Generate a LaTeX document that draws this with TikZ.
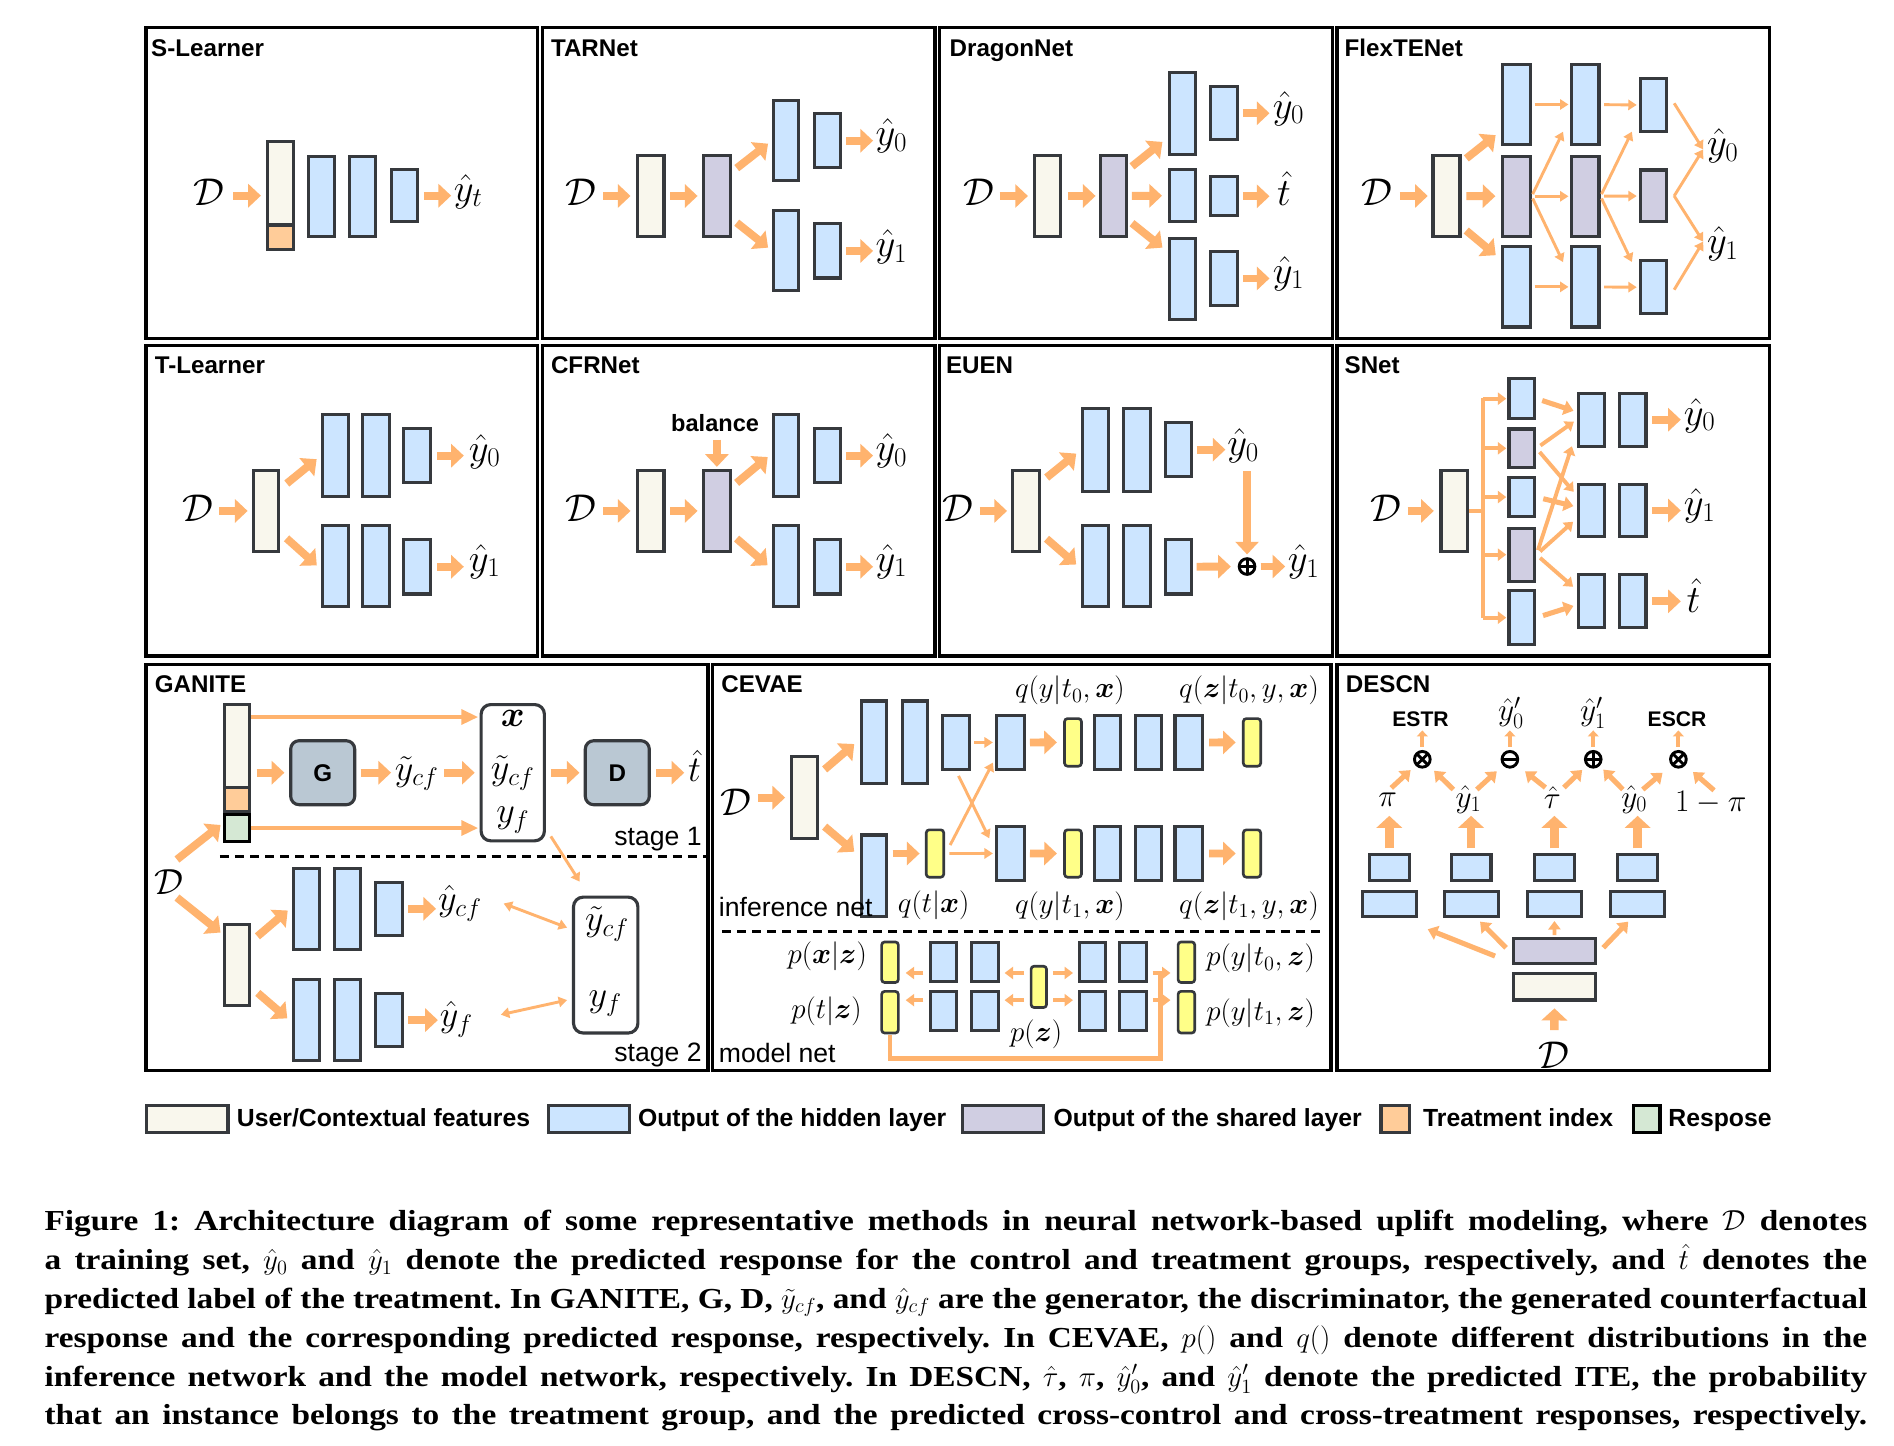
\RequirePackage{fix-cm}
\documentclass[tikz,border=0pt]{standalone}
\usepackage[no-math]{fontspec}
\usepackage{amsmath}
\newfontfamily\lsf{Liberation Sans}
\newfontfamily\capf[FakeStretch=1.15]{Liberation Serif}
\usetikzlibrary{arrows.meta,calc}
\definecolor{bord}{HTML}{36393D}
\definecolor{cre}{HTML}{F9F7ED}
\definecolor{blu}{HTML}{CCE5FF}
\definecolor{lavc}{HTML}{D0CEE2}
\definecolor{orac}{HTML}{FFCC99}
\definecolor{grnc}{HTML}{D5E8D4}
\definecolor{yelc}{HTML}{FFFF88}
\definecolor{gdc}{HTML}{BAC8D3}
\definecolor{arrc}{HTML}{FFB36E}
\newcommand\bxx[6]{\node[#2,minimum width={(#5)-(#3)-2.6},minimum height={(#6)-(#4)-2.6}] (#1) at ({((#3)+(#5))/2},{((#4)+(#6))/2}) {};}
\newcommand\crossx[1]{\draw[opl] ($(#1)+(-4.4,-4.4)$) -- ($(#1)+(4.4,4.4)$) ($(#1)+(-4.4,4.4)$) -- ($(#1)+(4.4,-4.4)$);}
\newcommand\crossp[1]{\draw[opl] ($(#1)+(-6.4,0)$) -- ($(#1)+(6.4,0)$) ($(#1)+(0,-6.4)$) -- ($(#1)+(0,6.4)$);}
\newcommand\crossm[1]{\draw[opl] ($(#1)+(-6.4,0)$) -- ($(#1)+(6.4,0)$);}
\newcommand\capl[1]{\hbox to 1509pt{#1}}
\begin{document}
\begin{tikzpicture}[x=1pt,y=-1pt,
  fr/.style={draw=black,line width=2.8pt},
  bx/.style={draw=bord,line width=2.6pt,inner sep=0pt,outer sep=1.3pt,rectangle},
  cr/.style={bx,fill=cre}, bl/.style={bx,fill=blu}, lv/.style={bx,fill=lavc},
  og/.style={bx,fill=orac}, gr/.style={bx,fill=grnc,draw=black,line width=2.8pt},
  yl/.style={bx,fill=yelc,rounded corners=2.5pt,line width=2.2pt},
  fa/.style={draw=arrc,line width=6.5pt,-{Triangle[length=10.5pt,width=19pt]}},
  fb/.style={draw=arrc,line width=7pt,-{Triangle[length=10pt,width=21pt]}},
  ma/.style={draw=arrc,line width=4.2pt,-{Triangle[length=8pt,width=12pt]}},
  gl/.style={draw=arrc,line width=3.5pt,-{Triangle[length=14pt,width=12pt]}},
  ta/.style={draw=arrc,line width=2.4pt,-{Triangle[length=7pt,width=8.5pt]}},
  tb/.style={draw=arrc,line width=3.2pt,-{Triangle[length=7pt,width=10pt]}},
  ts/.style={draw=arrc,line width=3.3pt,-{Triangle[length=5pt,width=9pt]}},
  tw/.style={draw=arrc,line width=2.4pt,{Triangle[length=7pt,width=8.5pt]}-{Triangle[length=7pt,width=8.5pt]}},
  bus/.style={draw=arrc,line width=3.2pt},
  lp/.style={draw=arrc,line width=4pt},
  dsh/.style={draw=black,line width=2.5pt,dash pattern=on 7.5pt off 5pt},
  ttl/.style={font=\lsf\bfseries\fontsize{20}{22}\selectfont,anchor=base west,inner sep=0pt},
  sfl/.style={font=\lsf\fontsize{22}{24}\selectfont,inner sep=0pt},
  lgt/.style={font=\lsf\bfseries\fontsize{20.5}{22}\selectfont,anchor=base west,inner sep=0pt},
  labT/.style={inner sep=0pt,font=\fontsize{32}{34}\selectfont},
  labG/.style={inner sep=0pt,font=\fontsize{30}{32}\selectfont},
  labC/.style={inner sep=0pt,font=\fontsize{24}{26}\selectfont},
  labD/.style={inner sep=0pt,font=\fontsize{26}{28}\selectfont},
  gbx/.style={draw=bord,line width=2.6pt,fill=gdc,rounded corners=7pt,inner sep=0pt,minimum width=53pt,minimum height=53pt,font=\lsf\bfseries\fontsize{20}{22}\selectfont},
  wbx/.style={draw=bord,line width=2.6pt,fill=white,rounded corners=8pt,inner sep=0pt},
  opc/.style={circle,draw=black,line width=2.4pt,minimum size=13pt,inner sep=0pt,fill=white},
  opl/.style={draw=black,line width=2.4pt}
]
\useasboundingbox (0,0) rectangle (1568,1197);
\fill[white] (0,0) rectangle (1568,1197);
% ---------- frames ----------
\draw[fr] (121,23) rectangle (445,280);
\draw[fr] (449,23) rectangle (774,280);
\draw[fr] (778,23) rectangle (1103,280);
\draw[fr] (1107,23) rectangle (1465,280);
\draw[fr] (121,286) rectangle (445,543);
\draw[fr] (449,286) rectangle (774,543);
\draw[fr] (778,286) rectangle (1103,543);
\draw[fr] (1107,286) rectangle (1465,543);
\draw[fr] (121,550) rectangle (586,886);
\draw[fr] (590,550) rectangle (1102,886);
\draw[fr] (1107,550) rectangle (1465,886);
\node[ttl] (t1) at (125,47) {S-Learner};
\node[ttl] (t2) at (456,47) {TARNet};
\node[ttl] (t3) at (786,47) {DragonNet};
\node[ttl] (t4) at (1113,47) {FlexTENet};
\node[ttl] (t5) at (128,309) {T-Learner};
\node[ttl] (t6) at (456,309) {CFRNet};
\node[ttl] (t7) at (783,309) {EUEN};
\node[ttl] (t8) at (1113,309) {SNet};
\node[ttl] (t9) at (128,573) {GANITE};
\node[ttl] (t10) at (597,573) {CEVAE};
\node[ttl] (t11) at (1114,573) {DESCN};
% ---------- S-Learner ----------
\node[labT] (sD) at (173,159) {$\mathcal{D}$};
\bxx{sC}{cr}{220}{116}{244}{208}
\bxx{sT}{og}{220}{185}{244}{208}
\bxx{sB1}{bl}{254}{128}{278}{197}
\bxx{sB2}{bl}{288}{128}{312}{197}
\bxx{sB3}{bl}{323}{139}{347}{185}
\node[labT,anchor=west] (sY) at (375.5,158.5) {$\hat{y}_t$};
\draw[fa,shorten <=7pt,shorten >=4pt] (sD.east|-sC.west) -- (sC.west);
\draw[fa,shorten <=4pt,shorten >=2pt] (sB3.east) -- (sY.west|-sB3.east);
% ---------- TARNet ----------
\node[labT] (aD) at (481,159) {$\mathcal{D}$};
\bxx{aC}{cr}{526.5}{127.5}{551}{197}
\bxx{aL}{lv}{581}{127.5}{606}{197}
\bxx{aU1}{bl}{639}{82}{662}{151}
\bxx{aU2}{bl}{673}{93}{697}{140}
\bxx{aB1}{bl}{639}{173}{662}{242}
\bxx{aB2}{bl}{673}{184}{697}{231.5}
\node[labT,anchor=west] (aY0) at (724.8,112.5) {$\hat{y}_0$};
\node[labT,anchor=west] (aY1) at (724.8,204.2) {$\hat{y}_1$};
\draw[fa,shorten <=5.5pt,shorten >=4.5pt] (aD.east|-aC.west) -- (aC.west);
\draw[fa,shorten <=4pt,shorten >=3.5pt] (aC) -- (aL);
\draw[fa,shorten <=5pt,shorten >=4pt] ($(aL.east)+(0,-20)$) -- (aU1.west);
\draw[fa,shorten <=5pt,shorten >=4pt] ($(aL.east)+(0,19)$) -- (aB1.west);
\draw[fa,shorten <=3.5pt,shorten >=2pt] (aU2.east) -- (aY0.west|-aU2.east);
\draw[fa,shorten <=3.5pt,shorten >=2pt] (aB2.east) -- (aY1.west|-aB2.east);
% ---------- DragonNet ----------
\node[labT] (dD) at (810.3,159) {$\mathcal{D}$};
\bxx{dC}{cr}{855}{127.5}{879}{197}
\bxx{dL}{lv}{910}{127.5}{934}{197}
\bxx{dU1}{bl}{967}{58.5}{991}{129}
\bxx{dU2}{bl}{1001}{70.5}{1026}{117}
\bxx{dM1}{bl}{967}{139}{991}{185}
\bxx{dM2}{bl}{1001}{145}{1026}{180}
\bxx{dB1}{bl}{967}{196}{991}{265.5}
\bxx{dB2}{bl}{1001}{207}{1026}{254}
\node[labT,anchor=west] (dY0) at (1053.5,89.7) {$\hat{y}_0$};
\node[labT,anchor=west] (dT) at (1057,156) {$\hat{t}$};
\node[labT,anchor=west] (dY1) at (1053.5,226.3) {$\hat{y}_1$};
\draw[fa,shorten <=4.2pt,shorten >=4pt] (dD.east|-dC.west) -- (dC.west);
\draw[fa,shorten <=5pt,shorten >=3pt] (dC) -- (dL);
\draw[fa,shorten <=4pt,shorten >=6pt] ($(dL.east)+(0,-22)$) -- ($(dU1.west)+(0,20)$);
\draw[fa,shorten <=3pt,shorten >=5pt] (dL) -- (dM1);
\draw[fa,shorten <=4pt,shorten >=6pt] ($(dL.east)+(0,20)$) -- ($(dB1.west)+(0,-22)$);
\draw[fa,shorten <=3pt,shorten >=2.5pt] (dU2.east) -- (dY0.west|-dU2.east);
\draw[fa,shorten <=3pt,shorten >=6pt] (dM2.east) -- (dT.west|-dM2.east);
\draw[fa,shorten <=3pt,shorten >=2.5pt] (dB2.east) -- (dY1.west|-dB2.east);
% ---------- FlexTENet ----------
\node[labT] (fD) at (1140,159) {$\mathcal{D}$};
\bxx{fC}{cr}{1185}{127.5}{1210}{197}
\bxx{f11}{bl}{1242.5}{52}{1268}{121}
\bxx{f12}{lv}{1242.5}{128}{1268}{197}
\bxx{f13}{bl}{1242.5}{203}{1268}{272}
\bxx{f21}{bl}{1300}{52}{1325}{121}
\bxx{f22}{lv}{1300}{128}{1325}{197}
\bxx{f23}{bl}{1300}{203}{1325}{272}
\bxx{f31}{bl}{1357}{63.5}{1381}{110.5}
\bxx{f32}{lv}{1357}{139.4}{1381}{185}
\bxx{f33}{bl}{1357}{214.7}{1381}{261}
\node[labT,anchor=west] (fY0) at (1413,120.7) {$\hat{y}_0$};
\node[labT,anchor=west] (fY1) at (1413,202) {$\hat{y}_1$};
\draw[fa,shorten <=6pt,shorten >=3pt] (fD.east|-fC.west) -- (fC.west);
\draw[fa,shorten <=5pt,shorten >=5.5pt] ($(fC.east)+(0,-28)$) -- ($(f11.west)+(0,22)$);
\draw[fa,shorten <=4pt,shorten >=4.5pt] (fC) -- (f12);
\draw[fa,shorten <=5pt,shorten >=5.5pt] ($(fC.east)+(0,25.4)$) -- ($(f13.west)+(0,-22.7)$);
\draw[ta,shorten <=2.5pt,shorten >=1.5pt] (f11) -- (f21);
\draw[ta,shorten <=2.5pt,shorten >=1.5pt] (f12) -- (f22);
\draw[ta,shorten <=2.5pt,shorten >=1.5pt] (f13) -- (f23);
\draw[ta,shorten <=2pt] (f12.east) -- ($(f21.west)+(-6,22.5)$);
\draw[ta,shorten <=2pt] (f12.east) -- ($(f23.west)+(-6,-20.5)$);
\draw[ta,shorten <=3pt,shorten >=2pt] (f21) -- (f31);
\draw[ta,shorten <=3pt,shorten >=2pt] (f22) -- (f32);
\draw[ta,shorten <=3pt,shorten >=2pt] (f23) -- (f33);
\draw[ta,shorten <=2pt] (f22.east) -- ($(f31.west)+(-6,22)$);
\draw[ta,shorten <=2pt] (f22.east) -- ($(f33.west)+(-6,-21)$);
\draw[ta] ($(f31.east)+(5,-1.5)$) -- ($(fY0.west)+(-3,3)$);
\draw[ta] ($(f32.east)+(5,0)$) -- ($(fY0.west)+(-3,3)$);
\draw[ta] ($(f32.east)+(5,0)$) -- ($(fY1.west)+(-3,-2)$);
\draw[ta] ($(f33.east)+(5,2)$) -- ($(fY1.west)+(-3,-2)$);
% ---------- T-Learner ----------
\node[labT] (lD) at (164,420.5) {$\mathcal{D}$};
\bxx{lC}{cr}{208.6}{388}{232}{458}
\bxx{lU1}{bl}{266}{342}{290}{412}
\bxx{lU2}{bl}{299}{342}{324}{412}
\bxx{lU3}{bl}{333}{353.5}{358}{401}
\bxx{lB1}{bl}{266}{433.6}{290}{503.6}
\bxx{lB2}{bl}{299}{433.6}{324}{503.6}
\bxx{lB3}{bl}{333}{445.4}{358}{493}
\node[labT,anchor=west] (lY0) at (388,373.8) {$\hat{y}_0$};
\node[labT,anchor=west] (lY1) at (388,464.8) {$\hat{y}_1$};
\draw[fa,shorten <=4.4pt,shorten >=3.6pt] (lD.east|-lC.west) -- (lC.west);
\draw[fa,shorten <=7pt,shorten >=5pt] ($(lC.east)+(0,-18.3)$) -- (lU1.west);
\draw[fa,shorten <=7pt,shorten >=5pt] ($(lC.east)+(0,18)$) -- ($(lB1.west)+(0,2.8)$);
\draw[fa,shorten <=4pt,shorten >=4pt] (lU3.east) -- (lY0.west|-lU3.east);
\draw[fa,shorten <=4pt,shorten >=4pt] (lB3.east) -- (lY1.west|-lB3.east);
% ---------- CFRNet ----------
\node[labT] (cD) at (481,420.5) {$\mathcal{D}$};
\bxx{cC}{cr}{526.5}{388}{551}{458}
\bxx{cL}{lv}{581}{388}{606}{458}
\node[font=\lsf\bfseries\fontsize{19.5}{21}\selectfont,inner sep=0pt] (cBal) at (592,350.6) {balance};
\bxx{cU1}{bl}{639}{342}{662}{412}
\bxx{cU2}{bl}{673}{353.5}{697}{401}
\bxx{cB1}{bl}{639}{433.6}{662}{503.6}
\bxx{cB2}{bl}{673}{445.4}{697}{493}
\node[labT,anchor=west] (cY0) at (724.8,373) {$\hat{y}_0$};
\node[labT,anchor=west] (cY1) at (724.8,464.8) {$\hat{y}_1$};
\draw[fa,shorten <=5.5pt,shorten >=4.5pt] (cD.east|-cC.west) -- (cC.west);
\draw[fa,shorten <=4pt,shorten >=3.5pt] (cC) -- (cL);
\draw[fa,shorten <=6pt,shorten >=1.5pt] (cBal.south-|cL.north) -- (cL.north);
\draw[fa,shorten <=5pt,shorten >=4.5pt] ($(cL.east)+(0,-20)$) -- ($(cU1.west)+(0,-1.5)$);
\draw[fa,shorten <=5pt,shorten >=4.7pt] ($(cL.east)+(0,19.6)$) -- ($(cB1.west)+(0,2.4)$);
\draw[fa,shorten <=3.5pt,shorten >=2pt] (cU2.east) -- (cY0.west|-cU2.east);
\draw[fa,shorten <=3.5pt,shorten >=2pt] (cB2.east) -- (cY1.west|-cB2.east);
% ---------- EUEN ----------
\node[labT] (eD) at (793,420.5) {$\mathcal{D}$};
\bxx{eC}{cr}{837}{388}{862}{458}
\bxx{eU1}{bl}{894.7}{337}{919}{408}
\bxx{eU2}{bl}{929}{337}{953.5}{408}
\bxx{eU3}{bl}{963.7}{348.5}{987.6}{396}
\bxx{eB1}{bl}{894.7}{433.6}{919}{503.6}
\bxx{eB2}{bl}{929}{433.6}{953.5}{503.6}
\bxx{eB3}{bl}{963.7}{445.4}{987.6}{493}
\node[labT,anchor=west] (eY0) at (1016,369.4) {$\hat{y}_0$};
\node[labT,anchor=west] (eY1) at (1066,465.3) {$\hat{y}_1$};
\node[opc] (eP) at (1032.4,469) {};
\crossp{eP}
\draw[fa,shorten <=5pt,shorten >=3.3pt] (eD.east|-eC.west) -- (eC.west);
\draw[fa,shorten <=5.8pt,shorten >=4.8pt] ($(eC.east)+(0,-24)$) -- (eU1.west);
\draw[fa,shorten <=5.8pt,shorten >=5pt] ($(eC.east)+(0,19.2)$) -- ($(eB1.west)+(0,2)$);
\draw[fa,shorten <=3pt,shorten >=1.5pt] (eU3.east) -- (eY0.west|-eU3.east);
\draw[fa,shorten <=6.3pt,shorten >=2.3pt] (eP.north|-eY0.south) -- (eP.north);
\draw[fa,shorten <=3pt,shorten >=5.7pt] (eB3) -- (eP);
\draw[fa,shorten <=3.5pt,shorten >=2pt] (eP) -- (eY1.west|-eP);
% ---------- SNet ----------
\node[labT] (nD) at (1147.3,420.5) {$\mathcal{D}$};
\bxx{nC}{cr}{1191.7}{388}{1216}{458}
\bxx{n1}{bl}{1248}{312.4}{1272}{347.7}
\bxx{n2}{lv}{1248}{353.8}{1272}{388.5}
\bxx{n3}{bl}{1248}{394}{1272}{429}
\bxx{n4}{lv}{1248}{436}{1272}{482.4}
\bxx{n5}{bl}{1248}{487.9}{1272}{534.8}
\bxx{nP1a}{bl}{1305.3}{324.3}{1329.6}{370.6}
\bxx{nP1b}{bl}{1339.7}{324.3}{1364}{370.6}
\bxx{nP2a}{bl}{1305.3}{399.6}{1329.6}{445.7}
\bxx{nP2b}{bl}{1339.7}{399.6}{1364}{445.7}
\bxx{nP3a}{bl}{1305.3}{474.6}{1329.6}{521}
\bxx{nP3b}{bl}{1339.7}{474.6}{1364}{521}
\node[labT,anchor=west] (nY0) at (1393.8,343.9) {$\hat{y}_0$};
\node[labT,anchor=west] (nY1) at (1393.8,419) {$\hat{y}_1$};
\node[labT,anchor=west] (nT) at (1396,492.7) {$\hat{t}$};
\draw[fa,shorten <=5pt,shorten >=4.7pt] (nD.east|-nC.west) -- (nC.west);
\coordinate (nbT) at (1227.5,329.8);
\coordinate (nbB) at (1227.5,512);
\draw[bus] (nC.east) -- (nC.east-|nbT);
\draw[bus] (nbT) -- (nbB);
\foreach \k in {n1,n2,n3,n4,n5} {\draw[tb,shorten >=1pt] (nbT|-\k.west) -- (\k.west);}
\draw[ma,shorten <=5pt,shorten >=2.8pt] (n1.east) -- ($(nP1a.west)+(0,-6.5)$);
\draw[tb,shorten <=4pt,shorten >=2.8pt] (n2.east) -- (nP1a.west);
\draw[tb,shorten <=4pt] (n2.east) -- ($(nP2a.west)+(-2.5,-15.5)$);
\draw[ma,shorten <=5.8pt,shorten >=2.8pt] (n3.east) -- ($(nP2a.west)+(0,-3)$);
\draw[tb,shorten <=4pt] (n4.east) -- ($(nP1a.west)+(-4,22)$);
\draw[tb,shorten <=4pt] (n4.east) -- ($(nP2a.west)+(-3,9.3)$);
\draw[tb,shorten <=4pt] (n4.east) -- ($(nP3a.west)+(-3,-12)$);
\draw[ma,shorten <=5.7pt,shorten >=2.8pt] (n5.east) -- ($(nP3a.west)+(0,3)$);
\draw[fa,shorten <=4pt,shorten >=2.3pt] (nP1b.east) -- (nY0.west|-nP1b.east);
\draw[fa,shorten <=4pt,shorten >=2.3pt] (nP2b.east) -- (nY1.west|-nP2b.east);
\draw[fa,shorten <=4pt,shorten >=4.5pt] (nP3b.east) -- (nT.west|-nP3b.east);
% ---------- GANITE ----------
\bxx{gC}{cr}{184.6}{582}{207.8}{698}
\bxx{gT}{og}{184.6}{650.7}{207.8}{673}
\bxx{gR}{gr}{184.6}{673}{207.8}{698}
\node[gbx] (gG) at (267.15,639.7) {G};
\node[gbx] (gDs) at (511.05,639.7) {D};
\node[wbx,minimum width=52.4pt,minimum height=112.8pt] (gX) at (424.5,639.7) {};
\node[labG] (gXx) at (424.5,594.5) {$\boldsymbol{x}$};
\node[labG] (gXy) at (424.5,640) {$\tilde{y}_{cf}$};
\node[labG] (gXf) at (424.5,679) {$y_f$};
\node[labG] (gYt) at (345,640.6) {$\tilde{y}_{cf}$};
\node[labG] (gTh) at (575,634) {$\hat{t}$};
\node[labG] (gDD) at (139.5,730) {$\mathcal{D}$};
\node[sfl,anchor=base east] (gS1) at (581,700) {stage 1};
\node[sfl,anchor=base east] (gS2) at (581,879) {stage 2};
\coordinate (g1) at ($(gC.north east)+(0,11.6)$);
\draw[gl,shorten >=1pt] (g1) -- (g1-|gX.west);
\draw[gl,shorten >=1pt] (gR.east) -- (gR.east-|gX.west);
\draw[fa,shorten <=4.6pt,shorten >=3.9pt] (gC.east|-gG.west) -- (gG.west);
\draw[fa,shorten <=3.7pt,shorten >=3pt] (gG.east) -- (gYt.west|-gG.east);
\draw[fa,shorten <=4.4pt,shorten >=4pt] (gYt.east|-gX.west) -- (gX.west);
\draw[fa,shorten <=4pt,shorten >=3.5pt] (gX.east|-gDs.west) -- (gDs.west);
\draw[fa,shorten <=4.4pt,shorten >=3pt] (gDs.east) -- (gTh.west|-gDs.east);
\draw[dsh] (182,708.7) -- (586,708.7);
\bxx{gC2}{cr}{184.6}{764}{207.8}{833.4}
\bxx{gU1}{bl}{242}{717.8}{266}{787.3}
\bxx{gU2}{bl}{275.7}{717.8}{299.7}{787.3}
\bxx{gU3}{bl}{309.6}{729}{334.5}{775.7}
\bxx{gB1}{bl}{242}{809.7}{266}{879}
\bxx{gB2}{bl}{275.7}{809.7}{299.7}{879}
\bxx{gB3}{bl}{309.6}{821}{334.5}{868}
\node[labG,anchor=west] (gYcf) at (362.5,748) {$\hat{y}_{cf}$};
\node[labG,anchor=west] (gYf) at (364,844) {$\hat{y}_f$};
\node[wbx,minimum width=53.3pt,minimum height=112.5pt] (gX2) at (501.45,798.95) {};
\node[labG] (gX2y) at (502.5,765) {$\tilde{y}_{cf}$};
\node[labG] (gX2f) at (501,831) {$y_f$};
\draw[ta] ($(gX.south east)+(4,-5)$) -- ($(gX2.north)+(-21.5,-11.5)$);
\draw[fa] ($(gDD.north)+(7,-8)$) -- ($(gR.south west)+(-2,-15)$);
\draw[fa] ($(gDD.south)+(7,2.6)$) -- ($(gC2.north west)+(-2,8)$);
\draw[fa,shorten <=7pt,shorten >=5pt] ($(gC2.east)+(0,-19)$) -- ($(gU1.west)+(0,-2)$);
\draw[fa,shorten <=7.4pt,shorten >=5.5pt] ($(gC2.east)+(0,18.5)$) -- ($(gB1.west)+(0,2.3)$);
\draw[fa,shorten <=3.5pt,shorten >=1.5pt] (gU3.east) -- (gYcf.west|-gU3.east);
\draw[fa,shorten <=3.5pt,shorten >=1.5pt] (gB3.east) -- (gYf.west|-gB3.east);
\draw[tw] ($(gYcf.east)+(18,0)$) -- ($(gX2.west)+(-4,-31)$);
\draw[tw] ($(gYf.east)+(23,-4)$) -- ($(gX2.west)+(-4,29)$);
% ---------- CEVAE ----------
\node[labT] (vD) at (609.5,664.5) {$\mathcal{D}$};
\bxx{vC}{cr}{654}{625.3}{678}{695.4}
\bxx{vU1}{bl}{711.6}{579}{735.2}{650}
\bxx{vU2}{bl}{745.6}{579}{768.8}{650}
\bxx{vU3}{bl}{779.3}{591}{803.8}{638.3}
\bxx{vU4}{bl}{824}{591}{849.7}{638.3}
\bxx{vUy1}{yl}{880}{593.6}{896.6}{635.6}
\bxx{vU5}{bl}{904.6}{591}{929.2}{638.3}
\bxx{vU6}{bl}{938.7}{591}{963.2}{638.3}
\bxx{vU7}{bl}{971.4}{591}{997}{638.3}
\bxx{vUy2}{yl}{1028}{593.6}{1045}{635.6}
\bxx{vL1}{bl}{711.6}{690}{735.2}{759.7}
\bxx{vLy0}{yl}{765.5}{685.7}{782.6}{727.5}
\bxx{vL4}{bl}{824}{683}{849.7}{730}
\bxx{vLy1}{yl}{880}{685.7}{896.6}{727.5}
\bxx{vL5}{bl}{904.6}{683}{929.2}{730}
\bxx{vL6}{bl}{938.7}{683}{963.2}{730}
\bxx{vL7}{bl}{971.4}{683}{997}{730}
\bxx{vLy2}{yl}{1028}{685.7}{1045}{727.5}
\draw[fa,shorten <=5pt,shorten >=4pt] (vD.east|-vC.west) -- (vC.west);
\draw[fa,shorten <=6.2pt,shorten >=5.8pt] ($(vC.east)+(0,-19.35)$) -- ($(vU1.west)+(0,-2.3)$);
\draw[fa,shorten <=6.2pt,shorten >=5.8pt] ($(vC.east)+(0,19.95)$) -- ($(vL1.west)+(0,-16)$);
\draw[ta,shorten <=2.7pt,shorten >=2pt] (vU3) -- (vU4);
\draw[fa,shorten <=3pt,shorten >=5pt] (vU4) -- (vUy1);
\draw[fa,shorten <=4pt,shorten >=5pt] (vU7) -- (vUy2);
\draw[fa,shorten <=3.8pt,shorten >=4.2pt] (vL1.east|-vLy0.west) -- (vLy0.west);
\draw[ta,shorten <=3.4pt,shorten >=2pt] (vLy0) -- (vL4);
\draw[ta] ($(vLy0.east)+(4,-7)$) -- ($(vU4.south west)+(-2,-7)$);
\draw[ta] ($(vU3.south)+(2,4)$) -- ($(vL4.west)+(-5,-12.5)$);
\draw[fa,shorten <=3pt,shorten >=5pt] (vL4) -- (vLy1);
\draw[fa,shorten <=4pt,shorten >=5pt] (vL7) -- (vLy2);
\node[labC] (vq1) at (885.7,571.8) {$q(y|t_0,\boldsymbol{x})$};
\node[labC] (vq2) at (1034,571.8) {$q(\boldsymbol{z}|t_0,y,\boldsymbol{x})$};
\node[labC] (vq3) at (773,749.8) {$q(t|\boldsymbol{x})$};
\node[labC] (vq4) at (885.7,750) {$q(y|t_1,\boldsymbol{x})$};
\node[labC] (vq5) at (1034,750) {$q(\boldsymbol{z}|t_1,y,\boldsymbol{x})$};
\node[sfl,anchor=base west] (vinf) at (595,759) {inference net};
\draw[dsh] (597.7,771.3) -- (1097,771.3);
\bxx{vMy1}{yl}{728.6}{778.5}{745}{814.7}
\bxx{vMy2}{yl}{728.6}{819.4}{745}{856.5}
\bxx{vMa1}{bl}{768.8}{779}{793.4}{813.8}
\bxx{vMa2}{bl}{802.9}{779}{827.7}{813.8}
\bxx{vMb1}{bl}{768.8}{819.4}{793.4}{854.3}
\bxx{vMb2}{bl}{802.9}{819.4}{827.7}{854.3}
\bxx{vMz}{yl}{852.3}{798.6}{867.7}{835.4}
\bxx{vMc1}{bl}{892.2}{779}{916.8}{813.8}
\bxx{vMc2}{bl}{925.6}{779}{950.2}{813.8}
\bxx{vMd1}{bl}{892.2}{819.4}{916.8}{854.3}
\bxx{vMd2}{bl}{925.6}{819.4}{950.2}{854.3}
\bxx{vMy3}{yl}{974}{778.5}{990.4}{814.7}
\bxx{vMy4}{yl}{974}{819.4}{990.4}{856.5}
\coordinate (lvA) at (860,805.5);
\coordinate (lvB) at (860,828);
\foreach \lv in {lvA,lvB} {
  \draw[tb,shorten <=4.3pt,shorten >=4.8pt] (vMa1.west|-\lv) -- (vMy1.east|-\lv);
  \draw[tb,shorten <=4.5pt,shorten >=4pt] (vMz.west|-\lv) -- (vMa2.east|-\lv);
  \draw[tb,shorten <=4.3pt,shorten >=3.9pt] (vMz.east|-\lv) -- (vMc1.west|-\lv);
  \draw[tb,shorten <=4.2pt,shorten >=5pt] (vMc2.east|-\lv) -- (vMy3.west|-\lv);
}
\coordinate (vjb) at (961,876.6);
\draw[lp] (vMy2.south) |- (vjb) -- (vjb|-lvA);
\node[labC,anchor=east] (vp1) at (717.8,792) {$p(\boldsymbol{x}|\boldsymbol{z})$};
\node[labC,anchor=east] (vp2) at (713.6,837.5) {$p(t|\boldsymbol{z})$};
\node[labC] (vpz) at (857.8,856.3) {$p(\boldsymbol{z})$};
\node[labC,anchor=west] (vp3) at (998.5,793.6) {$p(y|t_0,\boldsymbol{z})$};
\node[labC,anchor=west] (vp4) at (998.5,838.8) {$p(y|t_1,\boldsymbol{z})$};
\node[sfl,anchor=base west] (vmod) at (595,880) {model net};
% ---------- DESCN ----------
\node[font=\lsf\bfseries\fontsize{17.5}{19}\selectfont,inner sep=0pt] (dEstr) at (1176,595.3) {ESTR};
\node[font=\lsf\bfseries\fontsize{17.5}{19}\selectfont,inner sep=0pt] (dEscr) at (1388.4,595.3) {ESCR};
\node[labD] (dyp0) at (1250.8,590) {$\hat{y}_0'$};
\node[labD] (dyp1) at (1318.7,590) {$\hat{y}_1'$};
\node[opc] (oA) at (1177.5,628.6) {}; \crossx{oA}
\node[opc] (oB) at (1250,628.6) {}; \crossm{oB}
\node[opc] (oC) at (1319,628.6) {}; \crossp{oC}
\node[opc] (oD) at (1389.5,628.6) {}; \crossx{oD}
\draw[ts,shorten <=2.5pt,shorten >=3pt] (oA.north) -- (oA.north|-dEstr.south);
\draw[ts,shorten <=2.5pt,shorten >=1.5pt] (oB.north) -- (oB.north|-dyp0.south);
\draw[ts,shorten <=2.5pt,shorten >=1.5pt] (oC.north) -- (oC.north|-dyp1.south);
\draw[ts,shorten <=2.5pt,shorten >=3pt] (oD.north) -- (oD.north|-dEscr.south);
\node[labD] (dpi) at (1148.8,662.3) {$\pi$};
\node[labD] (dy1) at (1215.6,661.6) {$\hat{y}_1$};
\node[labD] (dtau) at (1285,660) {$\hat{\tau}$};
\node[labD] (dy0) at (1353,661.6) {$\hat{y}_0$};
\node[labD] (d1pi) at (1416.3,664.8) {$1-\pi$};
\draw[ma,shorten >=5.5pt] ($(dpi)+(3,-10)$) -- (oA);
\draw[ma,shorten >=5.9pt] ($(dy1)+(-12.4,-8)$) -- (oA);
\draw[ma,shorten >=7pt] ($(dy1)+(7,-8)$) -- (oB);
\draw[ma,shorten >=8.4pt] ($(dtau)+(-5.6,-8)$) -- (oB);
\draw[ma,shorten >=5pt] ($(dtau)+(9.7,-8)$) -- (oC);
\draw[ma,shorten >=4.2pt] ($(dy0)+(-9.5,-8)$) -- (oC);
\draw[ma,shorten >=9.5pt] ($(dy0)+(7,-8)$) -- (oD);
\draw[ma,shorten >=8.3pt] ($(d1pi)+(2.7,-10.5)$) -- (oD);
\bxx{dS1}{bl}{1132.3}{706}{1168}{730}
\bxx{dS2}{bl}{1200}{706}{1235.7}{730}
\bxx{dS3}{bl}{1269}{706}{1304.7}{730}
\bxx{dS4}{bl}{1337.8}{706}{1373.7}{730}
\bxx{dL1}{bl}{1126.7}{736.4}{1173.7}{760}
\bxx{dL2}{bl}{1194.4}{736.4}{1241.8}{760}
\bxx{dL3}{bl}{1263.4}{736.4}{1310.3}{760}
\bxx{dL4}{bl}{1332.3}{736.4}{1379.3}{760}
\bxx{dSh}{lv}{1251.5}{775.7}{1322.4}{798.6}
\bxx{dCr}{cr}{1251.5}{804.7}{1322.4}{829.2}
\node[labT] (dDD) at (1286.7,873.7) {$\mathcal{D}$};
\coordinate (dlev) at (1250,675.4);
\foreach \k in {dS1,dS2,dS3,dS4} {\draw[fb,shorten <=3.6pt] (\k.north) -- (\k.north|-dlev);}
\draw[fb,shorten <=9.7pt,shorten >=5.6pt] (dDD.north) -- (dCr.south);
\draw[ma] ($(dSh.west)+(-13.8,4.35)$) -- ($(dL1.south east)+(8.3,9.3)$);
\draw[ma] ($(dSh.north west)+(-4.7,8.9)$) -- ($(dL2.south)+(7.2,3)$);
\draw[tb,shorten <=1.5pt,shorten >=2.5pt] (dSh.north) -- (dL3.south);
\draw[ma] ($(dSh.north east)+(4.9,8.9)$) -- ($(dL4.south)+(-7.8,3)$);
% ---------- legend ----------
\bxx{lg1}{cr}{120}{914}{190}{939}
\bxx{lg2}{bl}{453}{914}{522.6}{939}
\bxx{lg3}{lv}{795.4}{914}{865}{939}
\bxx{lg4}{og}{1142}{914}{1168}{939}
\bxx{lg5}{gr}{1351}{914}{1375.6}{939}
\node[lgt] (lt1) at (196,933) {User/Contextual features};
\node[lgt] (lt2) at (528,933) {Output of the hidden layer};
\node[lgt] (lt3) at (872,933) {Output of the shared layer};
\node[lgt] (lt4) at (1178,933) {Treatment index};
\node[lgt] (lt5) at (1381,933) {Respose};
% ---------- caption ----------
\node[anchor=north west,inner sep=0pt,font=\capf\bfseries\fontsize{24}{32.1}\selectfont] (cap) at (36.7,1002) {\begin{minipage}[t]{1509pt}\frenchspacing
\capl{Figure 1: Architecture diagram of some representative methods in neural network-based uplift modeling, where $\mathcal{D}$ denotes}%
\capl{a training set, $\hat{y}_0$ and $\hat{y}_1$ denote the predicted response for the control and treatment groups, respectively, and $\hat{t}$ denotes the}%
\capl{predicted label of the treatment. In GANITE, G, D, $\tilde{y}_{cf}$, and $\hat{y}_{cf}$ are the generator, the discriminator, the generated counterfactual}%
\capl{response and the corresponding predicted response, respectively. In CEVAE, $p()$ and $q()$ denote different distributions in the}%
\capl{inference network and the model network, respectively. In DESCN, $\hat{\tau}$, $\pi$, $\hat{y}_0'$, and $\hat{y}_1'$ denote the predicted ITE, the probability}%
\capl{that an instance belongs to the treatment group, and the predicted cross-control and cross-treatment responses, respectively.}%
\end{minipage}};
\end{tikzpicture}
\end{document}
